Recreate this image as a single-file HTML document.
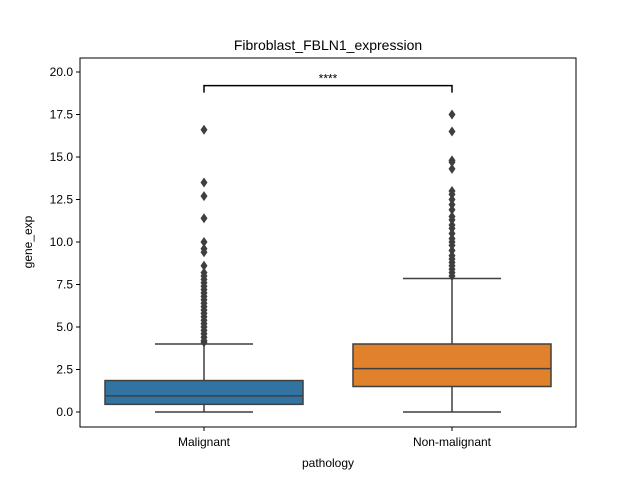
<!DOCTYPE html>
<html><head><meta charset="utf-8"><style>
body{margin:0;background:#fff;font-family:"Liberation Sans",sans-serif}
</style></head><body>
<svg id="c" width="640" height="480" xmlns="http://www.w3.org/2000/svg" font-family="Liberation Sans, sans-serif">
<rect width="640" height="480" fill="#fff"/>
<text x="328" y="50" font-size="14" text-anchor="middle">Fibroblast_FBLN1_expression</text>
<text x="328" y="467" font-size="12" text-anchor="middle">pathology</text>
<text transform="translate(32,242) rotate(-90)" font-size="12" text-anchor="middle">gene_exp</text>
<g id="plot"></g>
<rect x="80" y="58" width="496" height="369" fill="none" stroke="#000" stroke-width="1"/>
</svg>
<script>
const categories=["Malignant","Non-malignant"];
const q1=[0.45,1.5];
const medians=[0.95,2.55];
const q3=[1.85,4.0];
const whiskLo=[0,0];
const whiskHi=[4.0,7.85];
const outliersMal=[16.6,13.5,12.7,11.4,10.0,9.6,9.4,8.6,8.2,8.0,7.8,7.6,7.4,7.2,7.0,6.8,6.6,6.4,6.2,6.0,5.8,5.6,5.4,5.2,5.0,4.8,4.6,4.4,4.2,4.1];
const outliersNon=[17.5,16.5,14.8,14.7,14.3,13.0,12.8,12.5,12.2,11.9,11.5,11.3,11.0,10.8,10.5,10.2,10.0,9.8,9.5,9.2,9.0,8.8,8.6,8.4,8.2,8.0];
const yTicks=[0,2.5,5,7.5,10,12.5,15,17.5,20];
const colors=["#3274a1","#e1812c"];
const sigLabel="****";
const sigY=19.2;

const NS="http://www.w3.org/2000/svg";
const g=document.getElementById('plot');
const yS=v=>412-17*v;
const xS=i=>204+248*i;
function mk(t,a){const e=document.createElementNS(NS,t);for(const k in a)e.setAttribute(k,a[k]);g.appendChild(e);return e;}
yTicks.forEach(v=>{
  const l=mk('line',{x1:76,x2:80,y1:yS(v),y2:yS(v),stroke:'#000'});
  
  
  const t=mk('text',{x:73,y:yS(v)+4,'font-size':12,'text-anchor':'end'});
  t.textContent=v.toFixed(1);
  
  
});
const outs=[outliersMal,outliersNon];
categories.forEach((c,i)=>{
  const x=xS(i),hw=99,col='#3f3f3f';
  const tk=mk('line',{x1:x,x2:x,y1:427,y2:431,stroke:'#000'});
  
  
  const t=mk('text',{x:x,y:446,'font-size':12,'text-anchor':'middle'});
  t.textContent=c;
  
  
  const w1=mk('line',{x1:x,x2:x,y1:yS(q3[i]),y2:yS(whiskHi[i]),stroke:col,'stroke-width':1.5});
  
  
  const w2=mk('line',{x1:x,x2:x,y1:yS(q1[i]),y2:yS(whiskLo[i]),stroke:col,'stroke-width':1.5});
  
  
  [whiskHi[i],whiskLo[i]].forEach(v=>{
    const cap=mk('line',{x1:x-49,x2:x+49,y1:yS(v),y2:yS(v),stroke:col,'stroke-width':1.5});
    
    
  });
  const b=mk('rect',{x:x-hw,y:yS(q3[i]),width:2*hw,height:yS(q1[i])-yS(q3[i]),fill:colors[i],stroke:col,'stroke-width':1.5});
  
  
  const m=mk('line',{x1:x-hw,x2:x+hw,y1:yS(medians[i]),y2:yS(medians[i]),stroke:col,'stroke-width':1.5});
  
  
  outs[i].forEach(v=>{
    const y=yS(v);
    const d=mk('polygon',{points:`${x},${y-5} ${x+3.5},${y} ${x},${y+5} ${x-3.5},${y}`,fill:col});
    
    
  });
});
const by=yS(sigY);
const br=mk('polyline',{points:`${xS(0)},${by+7} ${xS(0)},${by} ${xS(1)},${by} ${xS(1)},${by+7}`,fill:'none',stroke:'#000','stroke-width':1.5});


const st=mk('text',{x:(xS(0)+xS(1))/2,y:by-3,'font-size':12,'text-anchor':'middle'});
st.textContent=sigLabel;


</script>
</body></html>
